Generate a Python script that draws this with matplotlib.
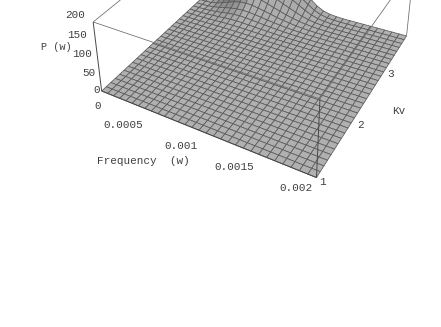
import numpy as np
import matplotlib
matplotlib.use("Agg")
import matplotlib.pyplot as plt
from mpl_toolkits.mplot3d.art3d import Line3DCollection

# ---- data -------------------------------------------------------------
freq = np.linspace(0, 0.002, 31)
kv = np.linspace(1, 4, 31)
z_ticks = ["0", "50", "100", "150", "200"]
freq_ticks = ["0", "0.0005", "0.001", "0.0015", "0.002"]
kv_ticks = ["1", "2", "3"]

# P(w); columns are freq index 2..20, rows kv index 18..30
p_rows = [
 [0,0,0,0,0,0,0,0,0,0,0,0,0,0,0,0,0,0,0],
 [0,0,0,.1,.2,.3,.3,.3,.2,.2,.1,.1,0,0,0,0,0,0,0],
 [0,.1,.3,.5,.8,1,1.1,1,.8,.6,.5,.3,.2,.1,.1,0,0,0,0],
 [0,.3,.8,1.5,2.4,3,3.2,3,2.6,2,1.5,1,.7,.4,.2,.1,0,0,0],
 [.1,.7,1.8,3.2,5,6,6.5,6,5,4,3,2.2,1.4,.9,.5,.2,.1,0,0],
 [.3,1.5,3.5,6,9,11,12,11,9.5,7.6,5.8,4.2,3,1.9,1,.5,.2,.1,0],
 [.6,3,6.5,11,15,18,19,18,16,13,10,7.6,5.4,3.6,2,1,.4,.1,0],
 [1,5,11,18,25,29,31,30,26,22,18,13,9.6,6.6,3.8,2,1,.3,.1],
 [2,9,19,30,39,46,48,46,41,35,28,22,16,11,7,4,2,.7,.2],
 [3,14,30,46,58,67,70,67,61,53,44,35,27,19,12,7,3.4,1.3,.3],
 [4,21,47,72,88,96,100,97,89,78,66,54,42,31,20,11,5,2,.5],
 [5,28,66,102,122,133,136,130,119,105,89,73,58,42,28,15,7,2.6,.7],
 [6,35,85,130,155,170,172,165,150,132,112,92,74,52,34,18,8,3,1],
]
p_surface = np.zeros((31, 31))
p_surface[18:31, 2:21] = np.array(p_rows)

# ---- calibration of the view (data corner -> pixel in the reference) ----
W, H = 441, 327
corner_data = [(0,1,0),(.002,1,0),(.002,4,0),(0,4,0),(0,1,200),(.002,1,200),(.002,4,200),(0,4,200)]
corner_px = [(104,95),(315,178),(406,36),(216,-19),(92,19),(320,97),(415.5,-32),(214,-73.6)]

def fit_camera(data, px):
    rows = []
    for (f, k, z), (x, y) in zip(data, px):
        X = [f/.002, (k-1)/3, z/200, 1]
        u, v = x, H - y
        rows.append(X + [0]*4 + [-u*c for c in X])
        rows.append([0]*4 + X + [-v*c for c in X])
    m = np.linalg.svd(np.array(rows))[2][-1].reshape(3, 4)
    scale = np.array([[1/.002,0,0,0],[0,1/3,0,-1/3],[0,0,1/200,0],[0,0,0,1]])
    m = m @ scale
    if m[2] @ np.array([.002, 4, 0, 1]) < 0:
        m = -m
    return m

cam = fit_camera(corner_data, corner_px)
near = cam[2] @ np.array([.002, 1, 0, 1])
cam4 = np.vstack([cam[0], cam[1], cam[2] - [0, 0, 0, near*.9], cam[2]])

fig = plt.figure(figsize=(W/100, H/100), dpi=100)
ax = fig.add_axes([0, 0, 1, 1], projection="3d")
ax.set_axis_off()
ax.patch.set_visible(False)
ax.computed_zorder = False

def get_proj():
    inv = ax.transData.inverted().get_matrix()
    A = np.eye(4)
    A[0, 0], A[0, 1], A[0, 3] = inv[0, 0], inv[0, 1], inv[0, 2]
    A[1, 0], A[1, 1], A[1, 3] = inv[1, 0], inv[1, 1], inv[1, 2]
    return A @ cam4
ax.get_proj = get_proj

# ---- surface -----------------------------------------------------------
F, K = np.meshgrid(freq, kv)
dzf = np.gradient(p_surface/200, axis=1)*30
grey = 0.69*(1 - 0.30*np.clip(dzf, 0, 2) - 0.02*np.clip(-dzf, 0, 2))
colors = np.dstack([grey, grey, grey, np.ones_like(grey)])
surf = ax.plot_surface(F, K, p_surface, rstride=1, cstride=1, facecolors=colors,
                       shade=False, edgecolor="#5a5a5a", linewidth=0.55, zorder=1)
surf.set_clip_on(False)

# ---- bounding box ------------------------------------------------------
box_edges = [((0,1,200),(.002,1,200)),((0,1,200),(0,4,200)),
             ((.002,1,200),(.002,4,200)),((.002,4,0),(.002,4,200))]
box = Line3DCollection(box_edges, colors="#6a6a6a", linewidths=0.55, zorder=3)
ax.add_collection3d(box)
box.set_clip_on(False)
posts = [((0,1,0),(0,1,200)),((.002,1,0),(.002,1,200)),((0,1,0),(.002,1,0))]
front = Line3DCollection(posts, colors="#484848", linewidths=0.7, zorder=3)
ax.add_collection3d(front)
front.set_clip_on(False)

# ---- text --------------------------------------------------------------
def label(x, y, s, ha="center", size=7.9):
    fig.text(x/W, 1 - y/H, s, ha=ha, va="center", family="Liberation Mono",
             fontsize=size, color="#404040")

for s, x, y in zip(z_ticks, [100, 96, 92, 87, 85], [90, 73, 54, 35, 15]):
    label(x, y, s, ha="right")
for s, x, y in zip(freq_ticks, [98, 123, 181, 234, 296], [106, 125, 146, 167, 188]):
    label(x, y, s)
for s, x, y in zip(kv_ticks, [322, 360, 391], [182, 125, 74]):
    label(x, y, s)
label(143, 161, "Frequency  (w)", size=7.9)
label(56, 47, "P (w)", size=7.4)
label(399, 111, "Kv", size=7.9)

fig.savefig("out.png", dpi=100)
